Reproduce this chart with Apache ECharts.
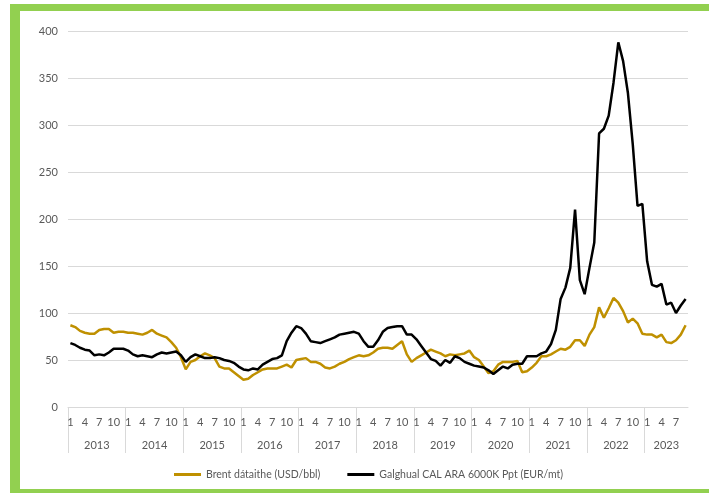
<!DOCTYPE html>
<html><head><meta charset="utf-8">
<script src="https://cdn.jsdelivr.net/npm/echarts@6/dist/echarts.min.js"></script>
<style>html,body{margin:0;padding:0;background:#fff;overflow:hidden}#c{width:709px;height:493px}</style>
</head><body><div id="c"></div>
<script>
const years = ['2013','2014','2015','2016','2017','2018','2019','2020','2021','2022','2023'];
const monthsInYear = [12,12,12,12,12,12,12,12,12,12,9];
const shownMonths = ['1','4','7','10'];
const seriesNames = ['Brent dátaithe (USD/bbl)', 'Galghual CAL ARA 6000K Ppt (EUR/mt)'];
const yMin = 0, yMax = 400, yStep = 50;

const brent = [
87,85,81,79,78,78,82,83,83,79,80,80,
79,79,78,77,79,82,78,76,74,69,63,53,
40,48,50,54,57,55,52,43,41,41,37,33,
29,30,34,37,40,41,41,41,43,45,42,50,
51,52,48,48,46,42,41,43,46,48,51,53,
55,54,55,58,62,63,63,62,66,70,56,48,
52,55,58,61,59,57,54,56,55,56,57,60,
53,50,43,36,38,45,48,48,48,49,37,38,
42,47,54,54,56,59,62,61,64,71,71,65,
77,85,106,95,105,116,111,102,90,94,89,78,
77,77,74,77,69,68,71,77,87
];
const coal = [
68,66,63,61,60,55,56,55,58,62,62,62,
60,56,54,55,54,53,56,58,57,58,59,55,
48,53,56,54,52,52,53,52,50,49,47,43,
40,39,41,40,45,48,51,52,55,70,79,86,
84,78,70,69,68,70,72,74,77,78,79,80,
78,70,64,64,71,80,84,85,86,86,77,77,
72,65,58,51,49,44,50,47,54,52,48,46,
44,43,42,39,35,39,43,41,45,46,46,54,
54,54,57,59,67,82,115,127,148,210,135,120,
148,175,291,296,310,345,388,368,334,280,214,216,
155,130,128,131,109,111,100,108,115
];

// month categories
const monthCats = [];
years.forEach((y, k) => { for (let m = 1; m <= monthsInYear[k]; m++) monthCats.push(String(m)); });
// boundary axis (one entry per month boundary)
const boundaryCats = [];
const yearStarts = new Set();
let s = 0;
years.forEach((y, k) => {
  const n = monthsInYear[k];
  yearStarts.add(s);
  for (let m = 0; m < n; m++) boundaryCats.push('');
  const li = s + Math.floor(n / 2);
  boundaryCats[li] = (n % 2 === 1) ? '{h|' + y + '}' : '{n|' + y + '}';
  s += n;
});
boundaryCats.push('');

const font = 'Lato, "Liberation Sans", sans-serif';
const grey = '#595959';
const green = '#92D050';

const chart = echarts.init(document.getElementById('c'), null, {renderer: 'canvas'});
chart.setOption({
  animation: false,
  backgroundColor: '#fff',
  textStyle: {fontFamily: font},
  grid: {left: 68, right: 21, top: 31, bottom: 86, containLabel: false, outerBoundsMode: 'none'},
  xAxis: [
    {
      type: 'category', data: monthCats, boundaryGap: true, position: 'bottom',
      axisLine: {show: true, lineStyle: {color: '#d9d9d9', width: 1}},
      axisTick: {show: false},
      axisLabel: {
        interval: 0, margin: 10, color: grey, fontSize: 11, fontFamily: font,
        formatter: v => shownMonths.indexOf(v) >= 0 ? v : ''
      },
      splitLine: {show: false}
    },
    {
      type: 'category', data: boundaryCats, boundaryGap: false, position: 'bottom',
      axisLine: {show: false},
      axisTick: {show: true, length: 46, interval: (i) => yearStarts.has(i), lineStyle: {color: '#d9d9d9', width: 1}},
      axisLabel: {
        interval: 0, margin: 33, color: grey, fontSize: 11, fontFamily: font,
        rich: {
          n: {color: grey, fontSize: 11, fontFamily: font},
          h: {color: grey, fontSize: 11, fontFamily: font, padding: [0, 0, 0, 4.8]}
        }
      },
      splitLine: {show: false}
    }
  ],
  yAxis: {
    type: 'value', min: yMin, max: yMax, interval: yStep,
    axisLine: {show: false}, axisTick: {show: false},
    axisLabel: {color: grey, fontSize: 11, fontFamily: font, margin: 10},
    splitLine: {lineStyle: {color: '#d9d9d9', width: 1}}
  },
  legend: {
    left: 169, top: 464, itemWidth: 27, itemHeight: 3, itemGap: 27, icon: 'rect',
    textStyle: {color: grey, fontSize: 10.5, fontFamily: font},
    data: seriesNames
  },
  series: [
    {name: seriesNames[0], type: 'line', data: brent, xAxisIndex: 0, showSymbol: false, symbol: 'none',
     color: '#BF9000', lineStyle: {color: '#BF9000', width: 2.5}},
    {name: seriesNames[1], type: 'line', data: coal, xAxisIndex: 0, showSymbol: false, symbol: 'none',
     color: '#000000', lineStyle: {color: '#000000', width: 2.5}}
  ],
  graphic: [
    {type: 'rect', silent: true, z: 100, shape: {x: 10, y: 4, width: 699, height: 7}, style: {fill: green}},
    {type: 'rect', silent: true, z: 100, shape: {x: 10, y: 4, width: 10, height: 489}, style: {fill: green}},
    {type: 'rect', silent: true, z: 100, shape: {x: 10, y: 489, width: 699, height: 4}, style: {fill: green}}
  ]
});
</script>
</body></html>
